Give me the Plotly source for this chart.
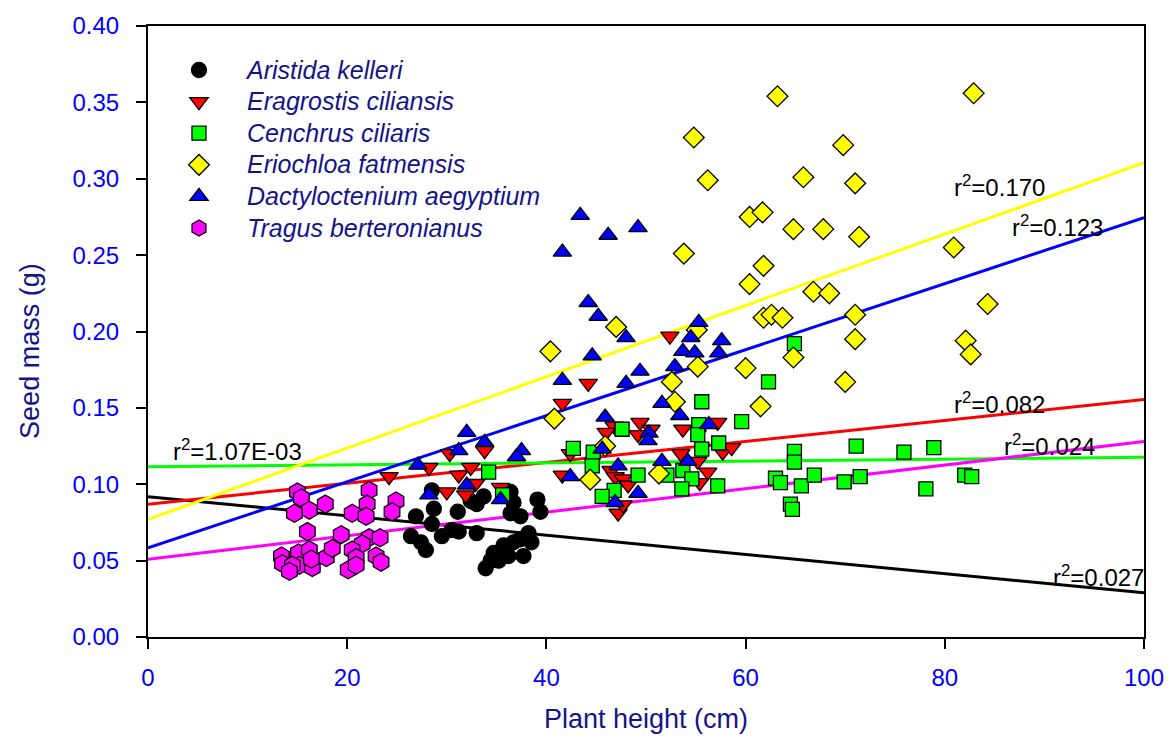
import plotly.graph_objects as go

# ---- species observations: plant height (cm) vs seed mass (g) ----
species = ["Aristida kelleri", "Eragrostis ciliansis", "Cenchrus ciliaris",
           "Eriochloa fatmensis", "Dactyloctenium aegyptium", "Tragus berteronianus"]

aristida_x = [28.5, 28.7, 26.9, 31.1, 32.4, 33.7, 33.0, 36.4, 36.7, 36.4,
              37.4, 39.1, 39.4, 26.4, 27.4, 27.9, 28.5, 29.5, 30.5, 31.2,
              33.0, 34.7, 35.7, 36.7, 37.4, 38.2, 38.5, 37.7, 33.9, 35.2,
              36.2, 34.4]
aristida_y = [0.096, 0.084, 0.079, 0.082, 0.089, 0.092, 0.087, 0.095, 0.088, 0.081,
              0.079, 0.090, 0.082, 0.066, 0.062, 0.057, 0.074, 0.066, 0.070, 0.069,
              0.068, 0.055, 0.060, 0.062, 0.064, 0.068, 0.062, 0.053, 0.045, 0.050,
              0.053, 0.050]

eragrostis_x = [52.4, 44.2, 41.6, 46.8, 46.0, 49.4, 49.2, 50.5, 53.7, 57.2,
                53.5, 55.2, 56.2, 42.4, 41.6, 46.5, 46.9, 47.7, 48.2, 55.4,
                57.7, 58.6, 47.2, 47.7, 24.2, 28.2, 30.3, 31.2, 32.4, 33.8,
                30.0, 31.9, 32.9, 35.4]
eragrostis_y = [0.197, 0.166, 0.153, 0.138, 0.134, 0.1405, 0.1325, 0.136, 0.136, 0.1405,
                0.120, 0.115, 0.108, 0.120, 0.106, 0.109, 0.105, 0.1035, 0.0995, 0.101,
                0.121, 0.124, 0.081, 0.0865, 0.105, 0.111, 0.120, 0.106, 0.111, 0.122,
                0.095, 0.093, 0.1005, 0.098]

cenchrus_x = [64.9, 62.3, 55.6, 59.6, 47.6, 55.3, 55.2, 57.3, 55.6, 42.7,
              44.7, 44.6, 64.9, 64.9, 71.1, 75.9, 78.9, 49.2, 52.1, 53.7,
              54.6, 57.2, 53.6, 46.8, 45.6, 63.0, 63.5, 65.6, 66.9, 69.9,
              71.5, 78.1, 82.0, 82.7, 64.5, 64.7, 34.2, 35.6]
cenchrus_y = [0.192, 0.167, 0.154, 0.141, 0.136, 0.139, 0.1325, 0.127, 0.123, 0.1235,
              0.121, 0.112, 0.1215, 0.1145, 0.125, 0.121, 0.124, 0.106, 0.106, 0.109,
              0.1035, 0.099, 0.097, 0.096, 0.092, 0.104, 0.101, 0.099, 0.106, 0.1015,
              0.105, 0.097, 0.106, 0.105, 0.087, 0.0835, 0.108, 0.093]

eriochloa_x = [63.2, 82.9, 54.8, 69.8, 56.2, 65.8, 71.0, 60.4, 61.7, 64.8,
               67.8, 71.4, 80.9, 53.8, 61.8, 60.4, 66.8, 68.4, 84.3, 47.0,
               61.8, 62.6, 63.7, 71.0, 55.1, 71.0, 82.1, 82.6, 40.4, 64.8,
               55.2, 60.0, 52.6, 70.0, 52.9, 61.5, 40.8, 45.9, 51.3, 44.4]
eriochloa_y = [0.354, 0.356, 0.327, 0.322, 0.299, 0.301, 0.297, 0.275, 0.278, 0.267,
               0.267, 0.262, 0.255, 0.251, 0.243, 0.231, 0.226, 0.225, 0.218, 0.203,
               0.209, 0.211, 0.209, 0.211, 0.201, 0.195, 0.194, 0.185, 0.187, 0.183,
               0.177, 0.176, 0.167, 0.167, 0.154, 0.151, 0.143, 0.125, 0.107, 0.103]

dactylo_x = [43.4, 46.2, 49.2, 41.6, 44.2, 45.2, 48.0, 55.3, 54.5, 57.6,
             53.7, 54.9, 57.3, 44.6, 52.9, 49.4, 41.6, 48.0, 51.6, 53.4,
             45.9, 50.3, 50.2, 56.3, 45.6, 51.6, 54.2, 47.2, 42.4, 49.2,
             46.9, 32.0, 33.8, 31.2, 27.1, 37.5, 37.0, 32.0, 28.2, 35.4]
dactylo_y = [0.276, 0.263, 0.268, 0.252, 0.219, 0.210, 0.196, 0.206, 0.196, 0.194,
             0.187, 0.186, 0.186, 0.184, 0.177, 0.174, 0.168, 0.166, 0.153, 0.145,
             0.144, 0.1335, 0.1285, 0.139, 0.123, 0.115, 0.115, 0.112, 0.105, 0.094,
             0.088, 0.134, 0.1275, 0.122, 0.1125, 0.122, 0.118, 0.0995, 0.093, 0.090]

tragus_x = [15.0, 15.4, 17.8, 16.2, 14.7, 22.2, 22.0, 20.5, 21.9, 24.9,
            24.5, 16.0, 19.4, 22.2, 23.3, 21.5, 13.4, 13.5, 15.1, 16.2,
            15.2, 16.5, 17.9, 18.5, 14.5, 20.5, 20.9, 20.1, 20.9, 22.9,
            23.4, 14.2, 16.4]
tragus_y = [0.095, 0.091, 0.087, 0.083, 0.081, 0.096, 0.087, 0.081, 0.079, 0.089,
            0.082, 0.069, 0.067, 0.065, 0.065, 0.061, 0.053, 0.048, 0.055, 0.057,
            0.047, 0.0455, 0.052, 0.058, 0.047, 0.057, 0.052, 0.044, 0.047, 0.053,
            0.049, 0.043, 0.051]

# ---- linear fits (intercept, slope) and their r² labels, same species order ----
fit_intercept = [0.0919, 0.0869, 0.1115, 0.0770, 0.0584, 0.0509]
fit_slope = [-0.000630, 0.000686, 0.000061, 0.002335, 0.002162, 0.000771]
r2_labels = ["0.027", "0.082", "1.07E-03", "0.170", "0.123", "0.024"]

x_ticks = [0, 20, 40, 60, 80, 100]
y_ticks = [0.00, 0.05, 0.10, 0.15, 0.20, 0.25, 0.30, 0.35, 0.40]

xs = [aristida_x, eragrostis_x, cenchrus_x, eriochloa_x, dactylo_x, tragus_x]
ys = [aristida_y, eragrostis_y, cenchrus_y, eriochloa_y, dactylo_y, tragus_y]

# styling
fills = ["#000000", "#ff0000", "#00ff00", "#ffff00", "#0000ff", "#ff00ff"]
line_colors = ["#000000", "#ff0000", "#00ff00", "#ffff00", "#0000ff", "#ff00ff"]
symbols = ["circle", "triangle-down", "square", "diamond", "triangle-up", "hexagon"]
sizes = [15, 16, 14, 16, 16, 18]
label_pos = [(95.4, 0.0400), (85.5, 0.1535), (9.0, 0.1225),
             (85.5, 0.2950), (91.3, 0.2690), (90.5, 0.1260)]

FONT = "Liberation Sans, Arial, sans-serif"
NAVY = "#14148a"

fig = go.Figure()

# regression lines first so the markers sit on top
for i in range(6):
    x_line = [0, 100]
    y_line = [fit_intercept[i] + fit_slope[i] * xv for xv in x_line]
    fig.add_trace(go.Scatter(
        x=x_line, y=y_line, mode="lines",
        line=dict(color=line_colors[i], width=3),
        showlegend=False, hoverinfo="skip"))

for i in range(6):
    fig.add_trace(go.Scatter(
        x=xs[i], y=ys[i], mode="markers",
        name='<span style="font-size:25px">' + species[i] + "</span>",
        legendgroup=species[i],
        marker=dict(symbol=symbols[i], size=sizes[i], color=fills[i],
                    line=dict(color="black", width=1.3))))

for i in range(6):
    fig.add_annotation(
        x=label_pos[i][0], y=label_pos[i][1], xref="x", yref="y",
        text="r<sup>2</sup>=" + r2_labels[i], showarrow=False,
        font=dict(family=FONT, size=24, color="black"))

# axis titles
fig.add_annotation(x=0.5, y=-0.134, xref="paper", yref="paper",
                   text="Plant height (cm)", showarrow=False,
                   xanchor="center", yanchor="middle",
                   font=dict(family=FONT, size=27, color=NAVY))
fig.add_annotation(x=-0.118, y=0.469, xref="paper", yref="paper",
                   text="Seed mass (g)", showarrow=False, textangle=-90,
                   xanchor="center", yanchor="middle",
                   font=dict(family=FONT, size=27, color=NAVY))

fig.update_layout(
    width=1176, height=742, autosize=False,
    margin=dict(l=148, r=28, t=19, b=105),
    plot_bgcolor="white", paper_bgcolor="white",
    font=dict(family=FONT),
    legend=dict(x=0.003, y=0.962, xanchor="left", yanchor="top",
                bgcolor="rgba(0,0,0,0)", borderwidth=0,
                font=dict(family=FONT, size=22, color=NAVY, style="italic"),
                tracegroupgap=0, itemsizing="trace", itemwidth=86),
    showlegend=True,
)

fig.update_xaxes(
    range=[0, 100], tickvals=x_ticks, ticks="outside", ticklen=10, tickwidth=2,
    tickcolor="black", showline=True, linewidth=2, linecolor="black", mirror=True,
    showgrid=False, zeroline=False, ticklabelstandoff=8,
    tickfont=dict(family=FONT, size=24, color="#0000ff"))

fig.update_yaxes(
    range=[0, 0.40], tickvals=y_ticks, tickformat=".2f", ticks="outside", ticklen=10,
    tickwidth=2, tickcolor="black", showline=True, linewidth=2, linecolor="black",
    mirror=True, showgrid=False, zeroline=False, ticklabelstandoff=12,
    tickfont=dict(family=FONT, size=24, color="#0000ff"))

fig.write_html("out.html")
